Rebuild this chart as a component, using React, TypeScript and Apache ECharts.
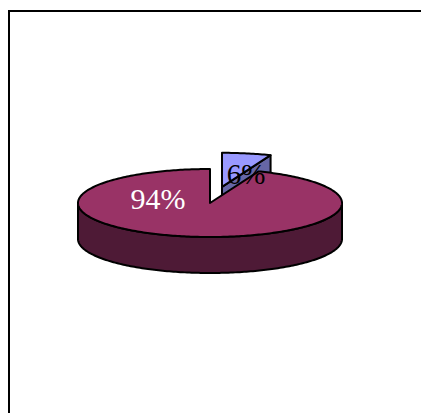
import React, { useEffect, useRef } from 'react';
import * as echarts from 'echarts';

const categories = ['Category 1', 'Category 2'];
const values = [6, 94];
const labelTexts = ['6%', '94%'];

const topColors = ['#9999FF', '#993366'];
const sideColors = ['#6666A6', '#4E1A36'];
const labelColors = ['#000000', '#FFFFFF'];

export default function App() {
  const ref = useRef<HTMLDivElement>(null);
  useEffect(() => {
    document.body.style.margin = '0';
    const chart = echarts.init(ref.current!, null, { renderer: 'svg' });
    const total = values.reduce((a, b) => a + b, 0);
    const cx = 210, cy = 203, rx = 132, ry = 34, depth = 36;
    const explode = [64, 0];
    const labelOffsets = [[24, -13], [-52, -5]];
    const deg = Math.PI / 180;
    const pt = (t: number, ox: number, oy: number, dz = 0) => [
      cx + ox + rx * Math.sin(t * deg),
      cy + oy - ry * Math.cos(t * deg) + dz,
    ];
    const arc = (a: number, b: number, ox: number, oy: number, dz = 0) => {
      const n = Math.max(2, Math.ceil(Math.abs(b - a)));
      const out: number[][] = [];
      for (let k = 0; k <= n; k++) out.push(pt(a + ((b - a) * k) / n, ox, oy, dz));
      return out;
    };
    const stroke = { stroke: '#000', lineWidth: 2, lineJoin: 'round' };

    const renderItem = (params: any, api: any) => {
      const idx = params.dataIndex;
      const v = api.value(1);
      let before = 0;
      for (let j = 0; j < idx; j++) before += values[j];
      const a = (before / total) * 360;
      const b = a + (v / total) * 360;
      const mid = (a + b) / 2;
      const ox = explode[idx] * Math.sin(mid * deg);
      const oy = -explode[idx] * Math.cos(mid * deg) * (ry / rx);
      const C = [cx + ox, cy + oy];
      const Cd = [C[0], C[1] + depth];
      const children: any[] = [];
      const lo = Math.max(a, 90), hi = Math.min(b, 270);
      if (lo < hi) {
        children.push({
          type: 'polygon',
          shape: { points: arc(lo, hi, ox, oy).concat(arc(hi, lo, ox, oy, depth)) },
          style: { fill: sideColors[idx], ...stroke },
        });
      }
      if (Math.sin(a * deg) < -1e-6) {
        children.push({
          type: 'polygon',
          shape: { points: [C, pt(a, ox, oy), pt(a, ox, oy, depth), Cd] },
          style: { fill: sideColors[idx], ...stroke },
        });
      }
      if (Math.sin(b * deg) > 1e-6) {
        children.push({
          type: 'polygon',
          shape: { points: [C, pt(b, ox, oy), pt(b, ox, oy, depth), Cd] },
          style: { fill: sideColors[idx], ...stroke },
        });
      }
      children.push({
        type: 'polygon',
        shape: { points: [C].concat(arc(a, b, ox, oy)) },
        style: { fill: topColors[idx], ...stroke },
      });
      children.push({
        type: 'text',
        z2: 100,
        style: {
          text: labelTexts[idx],
          x: C[0] + labelOffsets[idx][0],
          y: C[1] + labelOffsets[idx][1],
          fill: labelColors[idx],
          fontFamily: '"Liberation Serif", "Times New Roman", serif',
          fontSize: idx === 0 ? 29 : 30,
          align: 'center',
          verticalAlign: 'middle',
        },
      });
      return { type: 'group', children };
    };

    chart.setOption({
      animation: false,
      backgroundColor: '#ffffff',
      graphic: [
        {
          type: 'rect',
          shape: { x: 9, y: 11, width: 480, height: 480 },
          style: { fill: 'none', stroke: '#000', lineWidth: 2 },
          z: 10,
        },
      ],
      series: [
        {
          type: 'custom',
          coordinateSystem: 'none',
          silent: true,
          data: categories.map((c, i) => ({ name: c, value: [i, values[i]] })),
          renderItem,
        },
      ],
    });
    return () => chart.dispose();
  }, []);
  return <div ref={ref} style={{ width: 421, height: 413 }} />;
}
